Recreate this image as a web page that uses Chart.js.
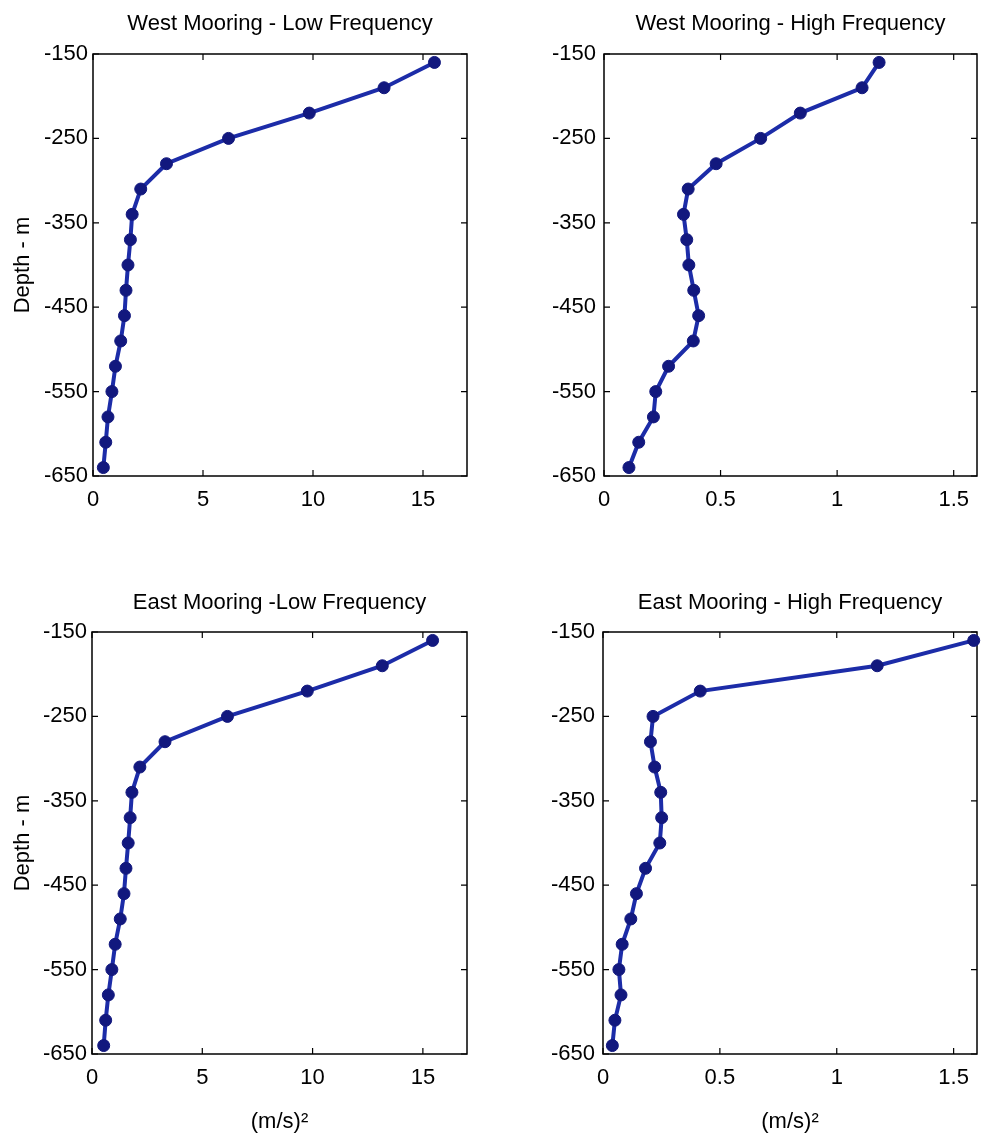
<!DOCTYPE html>
<html>
<head>
<meta charset="utf-8">
<script src="https://cdn.jsdelivr.net/npm/chart.js@4.4.1/dist/chart.umd.min.js"></script>
<style>
  body { margin: 0; background: #fff; }
  #wrap { position: relative; width: 984px; height: 1143px; }
  canvas { position: absolute; }
</style>
</head>
<body>
<div id="wrap">
  <canvas id="westLowChart" width="492" height="560" style="left:0;top:0"></canvas>
  <canvas id="westHighChart" width="492" height="560" style="left:492px;top:0"></canvas>
  <canvas id="eastLowChart" width="492" height="573" style="left:0;top:570px"></canvas>
  <canvas id="eastHighChart" width="492" height="573" style="left:492px;top:570px"></canvas>
</div>
<script>
// depth of each current meter (m)
const depths = [-160, -190, -220, -250, -280, -310, -340, -370, -400, -430, -460, -490, -520, -550, -580, -610, -640];

// variance, (m/s)^2
const westLow = [15.52, 13.23, 9.83, 6.16, 3.34, 2.17, 1.78, 1.70, 1.59, 1.50, 1.43, 1.26, 1.02, 0.86, 0.68, 0.58, 0.47];
const westHigh = [1.18, 1.107, 0.842, 0.672, 0.481, 0.361, 0.341, 0.355, 0.364, 0.385, 0.406, 0.383, 0.277, 0.222, 0.212, 0.149, 0.107];
const eastLow = [15.44, 13.16, 9.76, 6.14, 3.31, 2.17, 1.81, 1.73, 1.64, 1.54, 1.45, 1.28, 1.05, 0.90, 0.74, 0.62, 0.53];
const eastHigh = [1.586, 1.173, 0.416, 0.214, 0.203, 0.221, 0.247, 0.251, 0.243, 0.182, 0.143, 0.119, 0.082, 0.068, 0.077, 0.051, 0.040];

const depthTicks = [-150, -250, -350, -450, -550, -650];
const lowTicks = [0, 5, 10, 15];
const highTicks = [0, 0.5, 1, 1.5];

const FONT = "'Liberation Sans', Arial, Helvetica, sans-serif";

// matlab style box with ticks pointing inwards
const boxPlugin = {
  id: "box",
  beforeDatasetsDraw(chart) {
    const { ctx, chartArea: a } = chart;
    const xs = chart.scales.x, ys = chart.scales.y;
    const len = 6;
    ctx.save();
    ctx.strokeStyle = "#000";
    ctx.lineWidth = 1.5;
    ctx.strokeRect(a.left, a.top, a.right - a.left, a.bottom - a.top);
    ctx.lineWidth = 1.2;
    ctx.beginPath();
    xs.ticks.forEach((t) => {
      const px = xs.getPixelForValue(t.value);
      ctx.moveTo(px, a.bottom); ctx.lineTo(px, a.bottom - len);
      ctx.moveTo(px, a.top); ctx.lineTo(px, a.top + len);
    });
    ys.ticks.forEach((t) => {
      const py = ys.getPixelForValue(t.value);
      ctx.moveTo(a.left, py); ctx.lineTo(a.left + len, py);
      ctx.moveTo(a.right, py); ctx.lineTo(a.right - len, py);
    });
    ctx.stroke();
    ctx.restore();
  },
};

function makeChart(id, title, values, xMax, xTicks, opts) {
  const points = values.map((v, i) => ({ x: v, y: depths[i] }));
  new Chart(document.getElementById(id), {
    type: "line",
    data: {
      datasets: [{
        data: points,
        borderColor: "#1c2ca8",
        borderWidth: 4,
        pointRadius: 6,
        pointBackgroundColor: "#12187e",
        pointBorderColor: "#12187e",
        pointBorderWidth: 1,
        tension: 0,
        clip: false,
      }],
    },
    plugins: [boxPlugin],
    options: {
      responsive: false,
      animation: false,
      devicePixelRatio: 1,
      layout: { padding: { left: 0, right: opts.padRight, top: 0, bottom: 0 } },
      plugins: {
        legend: { display: false },
        tooltip: { enabled: false },
        title: {
          display: true,
          fullSize: false,
          text: title,
          color: "#000",
          font: { family: FONT, size: 22, weight: "normal", lineHeight: 1.2 },
          padding: { top: opts.titleTop, bottom: opts.titleBottom },
        },
      },
      scales: {
        x: {
          type: "linear",
          min: 0,
          max: xMax,
          grid: { display: false, drawTicks: false },
          border: { display: false },
          afterBuildTicks: (s) => { s.ticks = xTicks.map((v) => ({ value: v })); },
          afterFit: (s) => { s.height = opts.xHeight; },
          ticks: {
            color: "#000",
            padding: 11,
            maxRotation: 0,
            font: { family: FONT, size: 22 },
            callback: (v) => String(v),
          },
          title: {
            display: opts.xTitle,
            text: "(m/s)²",
            color: "#000",
            font: { family: FONT, size: 22, lineHeight: 1.2 },
            padding: { top: 0, bottom: 8 },
          },
        },
        y: {
          type: "linear",
          min: -650,
          max: -150,
          grid: { display: false, drawTicks: false },
          border: { display: false },
          afterBuildTicks: (s) => { s.ticks = depthTicks.map((v) => ({ value: v })); },
          afterFit: (s) => { s.width = opts.yWidth; },
          ticks: {
            color: "#000",
            padding: opts.yPad,
            font: { family: FONT, size: 22 },
            callback: (v) => String(v),
          },
          title: {
            display: opts.yTitle,
            text: "Depth - m",
            color: "#000",
            font: { family: FONT, size: 22, lineHeight: 1.2 },
            padding: { top: 10, bottom: 0 },
          },
        },
      },
    },
  });
}

makeChart("westLowChart", "West Mooring - Low Frequency", westLow, 17, lowTicks,
  { yWidth: 93, yPad: 5, padRight: 25, titleTop: 11, titleBottom: 16.6, xHeight: 84, xTitle: false, yTitle: true });
makeChart("westHighChart", "West Mooring - High Frequency", westHigh, 1.6, highTicks,
  { yWidth: 112, yPad: 8, padRight: 2, titleTop: 11, titleBottom: 16.6, xHeight: 84, xTitle: false, yTitle: false });
makeChart("eastLowChart", "East Mooring -Low Frequency", eastLow, 17, lowTicks,
  { yWidth: 92, yPad: 5, padRight: 25, titleTop: 20, titleBottom: 15.6, xHeight: 89, xTitle: true, yTitle: true });
makeChart("eastHighChart", "East Mooring - High Frequency", eastHigh, 1.6, highTicks,
  { yWidth: 111, yPad: 8, padRight: 4, titleTop: 20, titleBottom: 15.6, xHeight: 89, xTitle: true, yTitle: false });
</script>
</body>
</html>
